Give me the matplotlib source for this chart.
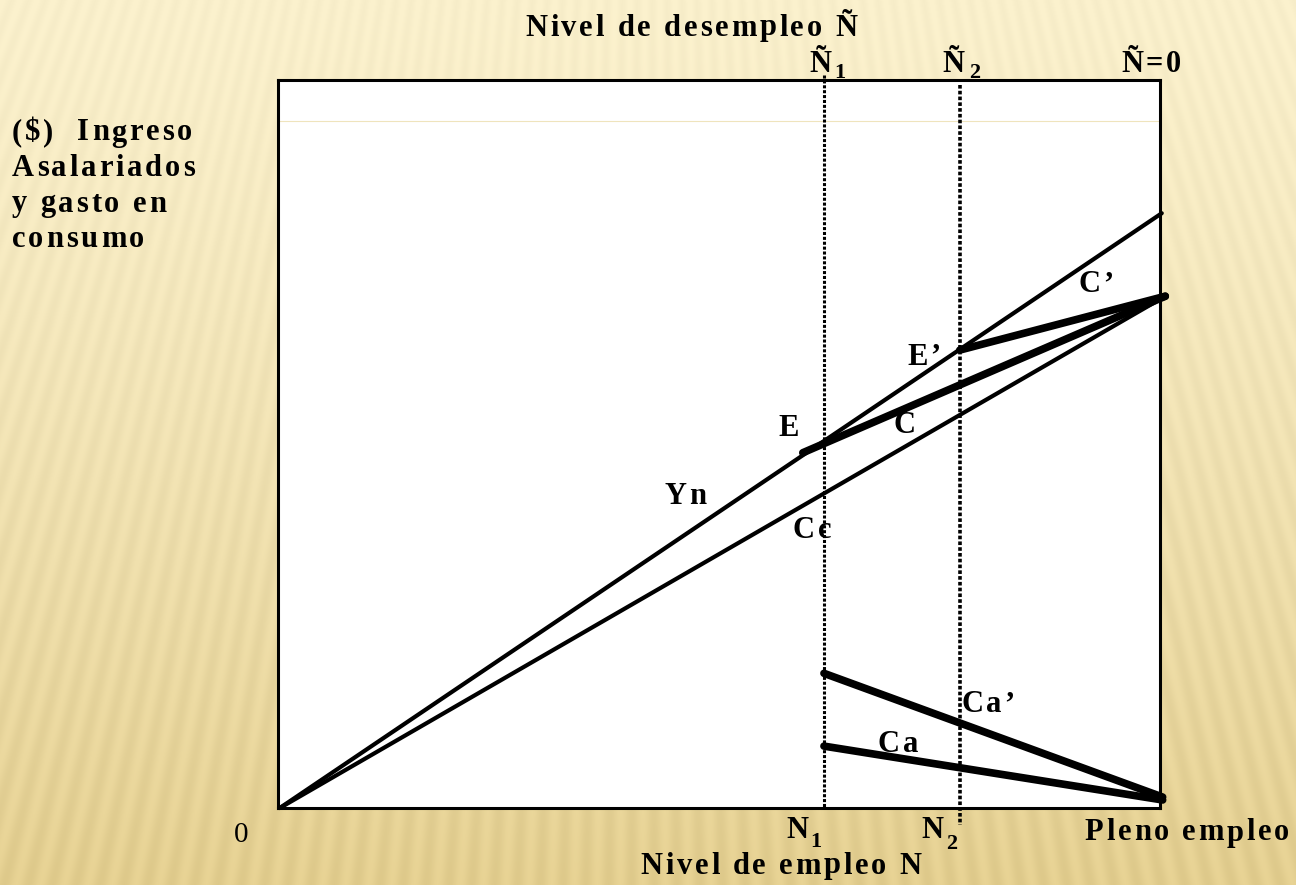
import numpy as np
import matplotlib
matplotlib.use("Agg")
import matplotlib.pyplot as plt
from matplotlib.font_manager import FontProperties

# curvas del diagrama (coordenadas en % del ancho/alto del recuadro)
yn_x = [0.2, 100.2]
yn_y = [0.0, 81.7]
cc_x = [0.2, 100.6]
cc_y = [0.0, 70.3]
c_x = [59.5, 100.6]
c_y = [48.8, 70.3]
c2_x = [77.3, 100.6]
c2_y = [62.9, 70.3]
ca2_x = [61.9, 100.3]
ca2_y = [18.5, 1.5]
ca_x = [61.9, 100.3]
ca_y = [8.5, 1.1]
n1_x = 61.9
n1_y = [100.7, 0.0]
n2_x = 77.3
n2_y = [99.3, -2.3]

ylabel_lines = ["($)  Ingreso", "Asalariados", "y gasto en", "consumo"]

W, H = 1296, 885
fig = plt.figure(figsize=(W / 100, H / 100), dpi=100)

# fondo dorado con rayas en abanico
bg = fig.add_axes([0, 0, 1, 1])
yy, xx = np.mgrid[0:H, 0:W]
t = yy / H
top = np.array([252, 242, 206]) / 255
bot = np.array([232, 211, 148]) / 255
img = top[None, None, :] * (1 - t[..., None] ** 1.3) + bot[None, None, :] * t[..., None] ** 1.3
ang = np.arctan2(xx - 648.0, yy + 1700.0)
stripe = 0.5 + 0.5 * np.sin(2 * np.pi * ang / 0.0088)
img = img - 0.04 * stripe[..., None] * (0.5 + 0.5 * t[..., None])
bg.imshow(np.clip(img, 0, 1), aspect="auto", extent=[0, W, H, 0])
bg.set_axis_off()

plt.rcParams['font.family'] = ['Liberation Serif', 'DejaVu Serif']

ax = fig.add_axes([278 / W, 1 - 808 / H, 882 / W, 728 / H])
ax.set_facecolor("white")
ax.set_xlim(0, 100)
ax.set_ylim(0, 100)
ax.set_xticks([])
ax.set_yticks([])
for s in ax.spines.values():
    s.set_linewidth(2.2)
    s.set_color("black")
ax.axhline(94.4, color="#efe4bd", lw=0.8)

ax.plot(yn_x, yn_y, color="black", lw=3, clip_on=False, solid_capstyle="round")
ax.plot(cc_x, cc_y, color="black", lw=3, clip_on=False, solid_capstyle="round")
ax.plot(c_x, c_y, color="black", lw=5.5, clip_on=False, solid_capstyle="round")
ax.plot(c2_x, c2_y, color="black", lw=5.5, clip_on=False, solid_capstyle="round")
ax.plot(ca2_x, ca2_y, color="black", lw=5.5, clip_on=False, solid_capstyle="round")
ax.plot(ca_x, ca_y, color="black", lw=5.5, clip_on=False, solid_capstyle="round")
ax.plot([n1_x, n1_x], n1_y, color="black", lw=2.2, ls=(0, (1, 0.6)), clip_on=False)
ax.plot([n2_x, n2_x], n2_y, color="black", lw=2.6, ls=(0, (1, 0.6)), clip_on=False)

renderer = fig.canvas.get_renderer()


def width_of(s, fp):
    w, _, _ = renderer.get_text_width_height_descent(s, fp, ismath=False)
    return w


def txt(px, py, s, size=22, bold=True, track=2.8, ha="center"):
    # texto con espaciado entre letras, como en la diapositiva
    fp = FontProperties(family=['Liberation Serif', 'DejaVu Serif'],
                        weight="bold" if bold else "normal", size=size)
    sp = width_of("a a", fp) - width_of("aa", fp)
    widths = [sp if ch == " " else width_of(ch, fp) for ch in s]
    total = sum(widths) + track * (len(s) - 1)
    x = px - total / 2 if ha == "center" else px
    for ch, w in zip(s, widths):
        if ch != " ":
            fig.text(x / W, 1 - py / H, ch, fontproperties=fp, va="center", ha="left")
        x += w + track


# textos superiores
txt(691, 28, "Nivel de desempleo Ñ")
txt(820, 64, "Ñ", track=0)
txt(840, 73, "1", size=16, track=0)
txt(953, 64, "Ñ", track=0)
txt(975, 73, "2", size=16, track=0)
txt(1151, 64, "Ñ=0")

# eje vertical
for i, line in enumerate(ylabel_lines):
    txt(12, 133 + 35.5 * i, line, ha="left")

# textos inferiores
txt(241, 835, "0", size=21, bold=False, track=0)
txt(797, 831, "N", track=0)
txt(816, 842, "1", size=16, track=0)
txt(932, 831, "N", track=0)
txt(952, 844, "2", size=16, track=0)
txt(1187, 833, "Pleno empleo")
txt(781, 866, "Nivel de empleo N")

# etiquetas de curvas
txt(789, 428, "E")
txt(924, 357, "E’")
txt(905, 426, "C")
txt(1096, 285, "C’")
txt(685, 497, "Yn")
txt(812, 530, "Cc")
txt(988, 705, "Ca’")
txt(898, 744, "Ca")

fig.savefig("out.png", dpi=100)
